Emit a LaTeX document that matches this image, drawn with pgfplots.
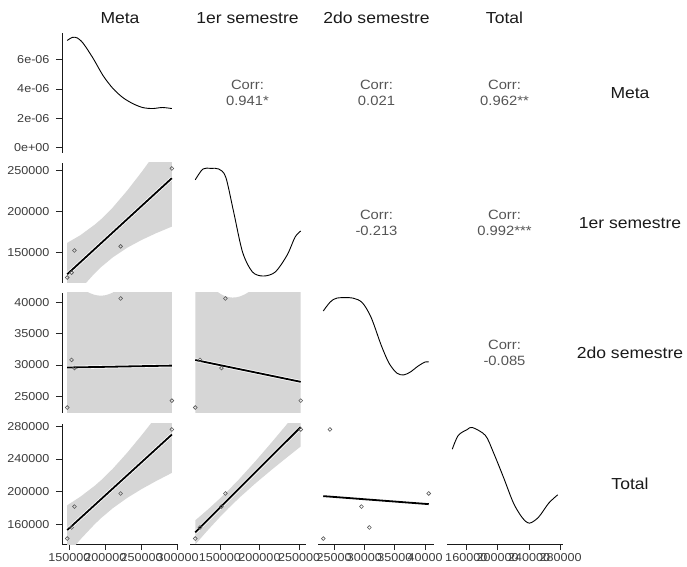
\documentclass[border=0pt]{standalone}
\usepackage{fontspec}
\setmainfont{Liberation Sans}[FakeStretch=1.1]
\usepackage{pgfplots}
\pgfplotsset{compat=1.18}
\definecolor{band}{RGB}{214,214,214}
\definecolor{txt}{RGB}{26,26,26}
\definecolor{ticktxt}{RGB}{60,60,60}
\definecolor{corrtxt}{RGB}{85,85,85}
\definecolor{pts}{RGB}{90,90,90}
\pgfplotsset{
  panel/.style={width=116bp,height=120bp,scale only axis,anchor=south west,
    axis x line*=bottom, axis y line*=left, xtick=\empty, ytick=\empty,
    x axis line style={draw=none}, y axis line style={draw=none},
    clip=true, scaled ticks=false,
    /pgf/number format/assume math mode=true,
    tick style={black!85, line width=0.7bp}, major tick length=6bp, tick align=outside,
    ticklabel style={font=\fontsize{11.5}{13}\selectfont, text=ticktxt},
    yticklabel style={xshift=-3bp},
  },
  yleft/.style={y axis line style={draw=black!90, line width=0.8bp}},
  xbottom/.style={x axis line style={draw=black!90, line width=0.8bp}},
  cM/.style={xmin=139750,xmax=300500},
  cF/.style={xmin=112350,xmax=258650},
  cS/.style={xmin=22330,xmax=41470},
  cT/.style={xmin=135500,xmax=283000},
  rF/.style={ymin=112350,ymax=258650},
  rS/.style={ymin=22330,ymax=41470},
  rT/.style={ymin=135500,ymax=283000},
  dens/.style={black, line width=0.9bp, smooth},
  fitline/.style={black, line width=1.8bp},
  halo/.style={white, line width=3.4bp},
  bandfill/.style={fill=band, draw=none},
  dots/.style={only marks, mark=o, mark size=1.9bp, mark options={draw=pts, line width=0.6bp}},
}
\begin{document}
\begin{tikzpicture}
% ---------- strip labels ----------
\begin{scope}[every node/.style={text=txt, font=\fontsize{16}{18}\selectfont}]
\node at (120bp,549bp) {Meta};
\node at (247.5bp,549bp) {1er semestre};
\node at (376.5bp,549bp) {2do semestre};
\node at (504.5bp,549bp) {Total};
\node at (630bp,474bp) {Meta};
\node at (630bp,344bp) {1er semestre};
\node at (630bp,214bp) {2do semestre};
\node at (630bp,83bp) {Total};
\end{scope}
% ---------- correlations ----------
\begin{scope}[every node/.style={text=corrtxt, font=\fontsize{13.5}{16.5}\selectfont, align=center}]
\node at (247.5bp,474bp) {Corr:\\0.941*};
\node at (376.5bp,474bp) {Corr:\\0.021};
\node at (504.5bp,474bp) {Corr:\\0.962**};
\node at (376.5bp,344bp) {Corr:\\-0.213};
\node at (504.5bp,344bp) {Corr:\\0.992***};
\node at (504.5bp,214bp) {Corr:\\-0.085};
\end{scope}

% ---------- row 1, col 1: density of Meta ----------
\begin{axis}[panel, cM, yleft, at={(62bp,414bp)}, ymin=-0.37e-6, ymax=7.81e-6,
  ytick={0,2e-6,4e-6,6e-6}, yticklabels={0e+00,2e-06,4e-06,6e-06}]
\addplot[dens] coordinates {(147000,7.30e-6) (154100,7.51e-6) (161000,7.47e-6) (169200,7.10e-6) (182900,6.08e-6) (196600,4.91e-6) (210300,4.03e-6) (224000,3.41e-6) (237700,3.00e-6) (251400,2.73e-6) (265100,2.66e-6) (278800,2.73e-6) (292000,2.66e-6)};
\end{axis}

% ---------- row 2 ----------
\begin{axis}[panel, cM, rF, yleft, at={(62bp,284bp)},
  ytick={150000,200000,250000}, yticklabels={150000,200000,250000}]
\addplot[bandfill] coordinates {(147000,161300) (165000,170500) (185000,183400) (194000,190200) (210000,204300) (230000,224900) (250000,247600) (270000,271800) (292000,299200) (292000,181100) (270000,173000) (250000,164800) (230000,155300) (210000,143500) (194000,131800) (185000,124100) (165000,104600) (147000,84800)} -- cycle;
\addplot[dots] coordinates {(147000,119000) (153000,125000) (157000,152000) (221000,157000) (292000,252000)};
\addplot[halo] coordinates {(147000,123040) (292000,240150)};
\addplot[fitline] coordinates {(147000,123040) (292000,240150)};
\end{axis}

\begin{axis}[panel, cF, ymin=0, ymax=1, at={(190bp,284bp)}]
\addplot[dens] coordinates {(119000,0.86) (128600,0.95) (138600,0.955) (148600,0.95) (157400,0.883) (167400,0.592) (178600,0.258) (191100,0.092) (204900,0.058) (219900,0.092) (234900,0.233) (244900,0.383) (252000,0.433)};
\end{axis}

% ---------- row 3 ----------
\begin{axis}[panel, cM, rS, yleft, at={(62bp,154bp)},
  ytick={25000,30000,35000,40000}, yticklabels={25000,30000,35000,40000}]
\addplot[bandfill] coordinates {(147000,44400) (175000,41650) (179000,41420) (184000,41210) (189000,41080) (194000,41050) (199000,41090) (204000,41250) (209000,41480) (213000,41730) (292000,52850) (292000,6930) (147000,14720)} -- cycle;
\addplot[dots] coordinates {(147000,23200) (153000,30800) (157000,29500) (221000,40600) (292000,24300)};
\addplot[halo] coordinates {(147000,29580) (292000,29890)};
\addplot[fitline] coordinates {(147000,29580) (292000,29890)};
\end{axis}

\begin{axis}[panel, cF, rS, at={(190bp,154bp)}]
\addplot[bandfill] coordinates {(119000,45590) (131000,43600) (141000,42270) (146000,41740) (151000,41310) (156000,41000) (161000,40810) (166000,40740) (171000,40790) (176000,40950) (181000,41220) (186000,41590) (191000,42030) (201000,43140) (252000,51230) (252000,3370) (119000,15970)} -- cycle;
\addplot[dots] coordinates {(119000,23200) (125000,30800) (152000,29500) (157000,40600) (252000,24300)};
\addplot[halo] coordinates {(119000,30780) (252000,27300)};
\addplot[fitline] coordinates {(119000,30780) (252000,27300)};
\end{axis}

\begin{axis}[panel, cS, ymin=0, ymax=1, at={(318bp,154bp)}]
\addplot[dens] coordinates {(23200,0.85) (24350,0.925) (25480,0.958) (28060,0.958) (29680,0.917) (31130,0.792) (32740,0.567) (34030,0.417) (35320,0.333) (36450,0.317) (37580,0.342) (38870,0.392) (40000,0.425) (40600,0.425)};
\end{axis}

% ---------- row 4 ----------
\begin{axis}[panel, cM, rT, yleft, xbottom, at={(62bp,23bp)},
  ytick={160000,200000,240000,280000}, yticklabels={160000,200000,240000,280000},
  xtick={150000,200000,250000,300000}, xticklabels={150000,200000,250000,300000}]
\addplot[bandfill] coordinates {(147000,183100) (165000,193500) (185000,207000) (194000,214000) (210000,227900) (230000,247600) (250000,269100) (270000,291600) (292000,317200) (292000,222900) (270000,212800) (250000,203000) (230000,192100) (210000,179400) (194000,167400) (185000,159800) (165000,140900) (147000,122100)} -- cycle;
\addplot[dots] coordinates {(147000,142200) (153000,155800) (157000,181500) (221000,197600) (292000,276300)};
\addplot[halo] coordinates {(147000,152620) (292000,270040)};
\addplot[fitline] coordinates {(147000,152620) (292000,270040)};
\end{axis}

\begin{axis}[panel, cF, rT, xbottom, at={(190bp,23bp)},
  xtick={150000,200000,250000}, xticklabels={150000,200000,250000}]
\addplot[bandfill] coordinates {(119000,164590) (135000,178030) (150000,191390) (161000,201810) (175000,215910) (195000,237450) (215000,260050) (235000,283250) (252000,303230) (252000,255370) (235000,242230) (215000,226470) (195000,210130) (175000,192710) (161000,179550) (150000,168550) (135000,152690) (119000,134970)} -- cycle;
\addplot[dots] coordinates {(119000,142200) (125000,155800) (152000,181500) (157000,197600) (252000,276300)};
\addplot[halo] coordinates {(119000,149780) (252000,279300)};
\addplot[fitline] coordinates {(119000,149780) (252000,279300)};
\end{axis}

\begin{axis}[panel, cS, rT, xbottom, at={(318bp,23bp)},
  xtick={25000,30000,35000,40000}, xticklabels={25000,30000,35000,40000}]
\addplot[dots] coordinates {(23200,142200) (30800,155800) (29500,181500) (40600,197600) (24300,276300)};
\addplot[fitline] coordinates {(23200,194350) (40600,184500)};
\end{axis}

\begin{axis}[panel, cT, ymin=0, ymax=1, xbottom, at={(447bp,23bp)},
  xtick={160000,200000,240000,280000}, xticklabels={160000,200000,240000,280000}]
\addplot[dens] coordinates {(142200,0.79) (149800,0.905) (161300,0.954) (167700,0.971) (184300,0.905) (194500,0.763) (207300,0.556) (220100,0.340) (231600,0.216) (240500,0.174) (252000,0.224) (264800,0.340) (276300,0.41)};
\end{axis}

\pgfresetboundingbox
\path (0,0) rectangle (687bp,567bp);
\end{tikzpicture}
\end{document}
